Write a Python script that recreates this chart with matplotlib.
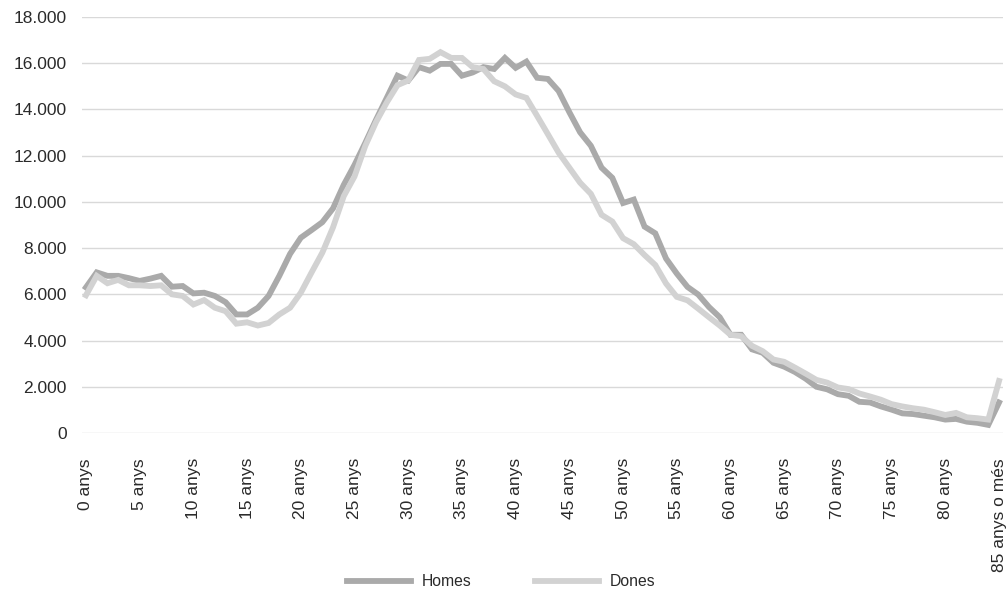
import matplotlib
matplotlib.use("Agg")
import matplotlib.pyplot as plt
from matplotlib.ticker import FuncFormatter

# edat 0..85 (85 = "85 anys o més")
edats = list(range(86))

homes = [6300, 6950, 6800, 6800, 6700, 6580, 6680, 6800, 6330, 6360,
         6040, 6070, 5930, 5660, 5130, 5130, 5420, 5930, 6800, 7750,
         8450, 8780, 9120, 9720, 10740, 11600, 12550, 13550, 14500, 15460,
         15250, 15830, 15680, 15970, 15970, 15460, 15600, 15830, 15750, 16230,
         15800, 16070, 15370, 15320, 14800, 13880, 13010, 12430, 11480, 11040,
         9950, 10100, 8930, 8640, 7550, 6900, 6320, 5990, 5450, 5010,
         4250, 4250, 3620, 3470, 3040, 2870, 2640, 2350, 2000, 1890,
         1680, 1610, 1350, 1320, 1150, 1010, 850, 820, 750, 680,
         580, 610, 490, 440, 350, 1320]

dones = [5960, 6800, 6480, 6625, 6390, 6390, 6360, 6390, 6000, 5930,
         5560, 5750, 5420, 5270, 4730, 4790, 4650, 4760, 5130, 5420,
         6070, 6945, 7800, 8900, 10250, 11100, 12420, 13450, 14300, 15050,
         15250, 16140, 16190, 16480, 16230, 16230, 15830, 15750, 15220, 15000,
         14650, 14500, 13720, 12930, 12130, 11480, 10830, 10350, 9440, 9150,
         8430, 8170, 7700, 7270, 6470, 5890, 5740, 5380, 5010, 4650,
         4250, 4190, 3770, 3540, 3180, 3080, 2830, 2570, 2300, 2180,
         1970, 1900, 1710, 1580, 1440, 1250, 1150, 1070, 1010, 900,
         780, 870, 680, 640, 580, 2250]

tick_pos = list(range(0, 86, 5))
tick_labels = [f"{e} anys" for e in range(0, 85, 5)] + ["85 anys o més"]

plt.rcParams['font.family'] = ['Liberation Sans', 'DejaVu Sans']

fig = plt.figure(figsize=(10.08, 6.01), dpi=100)
ax = fig.add_axes([82/1008, (601-433)/601, (1003-82)/1008, (433-17)/601])

ax.plot(edats, homes, color='#aaaaaa', lw=4.2, label='Homes', solid_joinstyle='miter')
ax.plot(edats, dones, color='#d2d2d2', lw=4.2, label='Dones', solid_joinstyle='miter')

ax.set_xlim(-0.37, 85.37)
ax.set_ylim(0, 18000)
ax.set_yticks(range(0, 18001, 2000))
ax.yaxis.set_major_formatter(FuncFormatter(lambda v, p: f"{int(v):,}".replace(",", ".")))
ax.set_xticks(tick_pos)
ax.set_xticklabels(tick_labels, rotation=90, fontsize=12.5, color='#2a2a2a')
ax.tick_params(axis='y', labelsize=12.5, labelcolor='#2a2a2a', length=0, pad=11)
ax.tick_params(axis='x', length=0, pad=18)

ax.grid(axis='y', color='#d9d9d9', lw=1)
ax.set_axisbelow(True)
for s in ax.spines.values():
    s.set_visible(False)

leg = ax.legend(loc='center', bbox_to_anchor=(0.455, -0.358), ncol=2, frameon=False,
                fontsize=11.3, handlelength=4.1, columnspacing=4.0, handletextpad=0.7)
for t in leg.get_texts():
    t.set_color('#2a2a2a')

fig.savefig("out.png", dpi=100)
